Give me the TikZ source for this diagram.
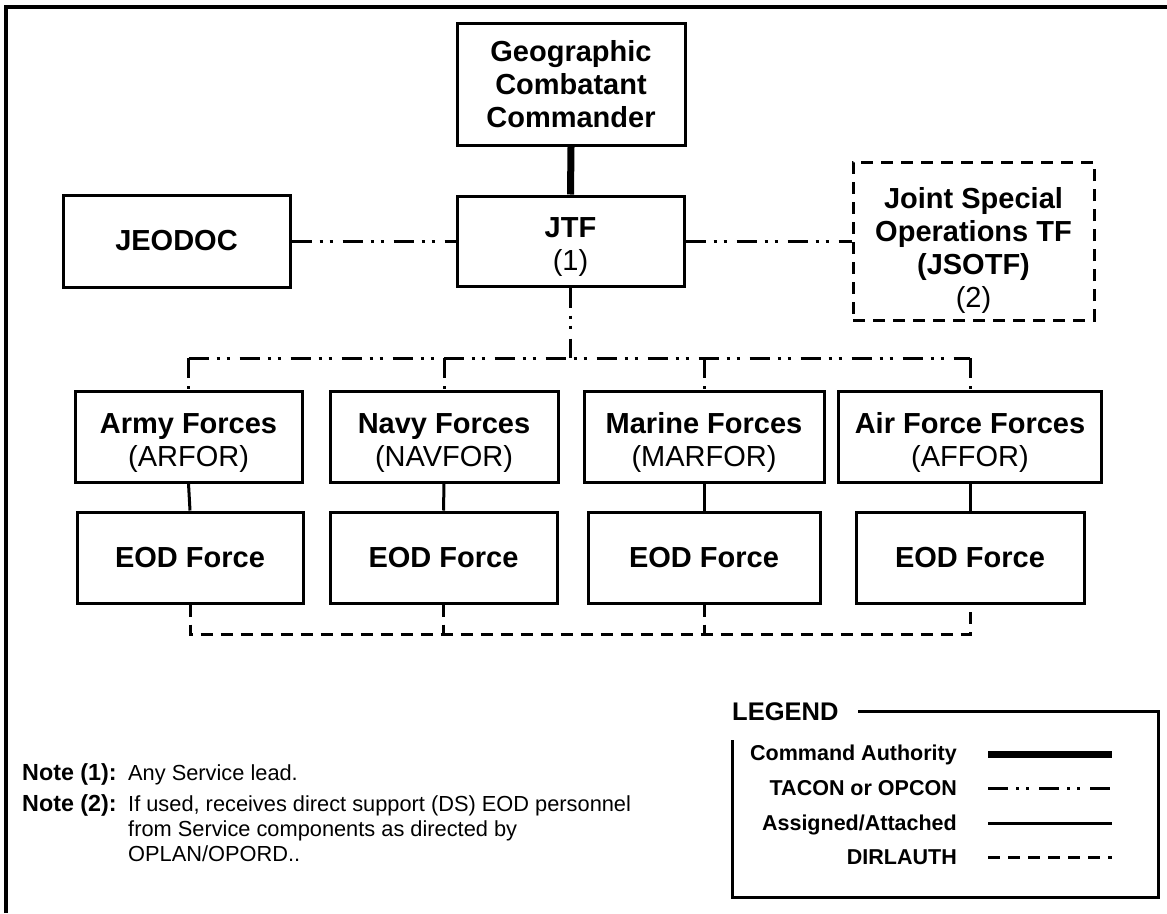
\documentclass[tikz,border=0pt]{standalone}
\usepackage{fontspec}
\setmainfont{Liberation Sans}
\newcommand{\upstrut}[1]{\rule{0pt}{#1}}
\begin{document}
\begin{tikzpicture}[x=1pt,y=-1pt,
  box/.style={draw, line width=3pt, inner sep=0pt, align=center,
    font=\fontsize{29}{33}\selectfont},
  cmd/.style={line width=7pt},
  tacon/.style={line width=3pt, dash pattern=on 20pt off 8pt on 3pt off 7pt on 3pt off 10pt},
  assigned/.style={line width=3pt},
  dirl/.style={line width=3pt, dash pattern=on 12pt off 8pt},
  legtext/.style={anchor=base east, inner sep=0pt, font=\fontsize{21.5}{24}\selectfont\bfseries},
  notehead/.style={anchor=base west, inner sep=0pt, font=\fontsize{23.3}{25}\selectfont\bfseries},
  notebody/.style={anchor=base west, inner sep=0pt, font=\fontsize{21.8}{25}\selectfont}
]
\useasboundingbox (0,0) rectangle (1167,913);
% outer frame
\draw[line width=4pt] (5.5,913) -- (5.5,7) -- (1167,7);

% nodes
\node[box, minimum width=228pt, minimum height=122pt] (gcc) at (571,84.5)
  {\bfseries Geographic\\\bfseries Combatant\\\bfseries Commander};
\node[box, minimum width=227pt, minimum height=90pt] (jtf) at (570.5,241)
  {\upstrut{32pt}\bfseries JTF\\(1)};
\node[box, minimum width=227pt, minimum height=92pt] (jeodoc) at (176.5,241)
  {\bfseries JEODOC};
\node[box, dash pattern=on 12pt off 8pt, minimum width=241pt, minimum height=158pt] (jsotf) at (973.5,241)
  {\upstrut{40pt}\bfseries Joint Special\\\bfseries Operations TF\\\bfseries (JSOTF)\\(2)};

\node[box, minimum width=227pt, minimum height=91pt] (army) at (188.5,436.5)
  {\upstrut{33pt}\bfseries Army Forces\\(ARFOR)};
\node[box, minimum width=228pt, minimum height=91pt] (navy) at (444,436.5)
  {\upstrut{33pt}\bfseries Navy Forces\\(NAVFOR)};
\node[box, minimum width=240pt, minimum height=91pt] (marine) at (704,436.5)
  {\upstrut{33pt}\bfseries Marine Forces\\(MARFOR)};
\node[box, minimum width=263pt, minimum height=91pt] (af) at (970,436.5)
  {\upstrut{33pt}\bfseries Air Force Forces\\(AFFOR)};

\node[box, minimum width=226pt, minimum height=91pt] (eod1) at (190,557.5) {\bfseries EOD Force};
\node[box, minimum width=227pt, minimum height=91pt] (eod2) at (443.5,557.5) {\bfseries EOD Force};
\node[box, minimum width=232pt, minimum height=91pt] (eod3) at (704,557.5) {\bfseries EOD Force};
\node[box, minimum width=228pt, minimum height=91pt] (eod4) at (970,557.5) {\bfseries EOD Force};

% connectors
\draw[cmd] (gcc.south) -- (jtf.north);
\draw[tacon] (jeodoc.east) -- (jtf.west);
\draw[tacon] (jtf.east) -- (jsotf.west);

\coordinate (busL) at (188.5,358);
\coordinate (busR) at (970,358);
\draw[tacon] (jtf.south) -- (jtf.south |- busL);
\draw[tacon] (busL) -- (busR);
\draw[tacon] (busL) -- (army.north);
\draw[tacon] (navy.north |- busL) -- (navy.north);
\draw[tacon] (marine.north |- busL) -- (marine.north);
\draw[tacon] (busR) -- (af.north);

\draw[assigned] (army.south) -- (eod1.north);
\draw[assigned] (navy.south) -- (eod2.north);
\draw[assigned] (marine.south) -- (eod3.north);
\draw[assigned] (af.south) -- (eod4.north);

\coordinate (dbL) at (190,634);
\coordinate (dbR) at (970,634);
\draw[dirl] (eod1.south) -- (dbL) -- (dbR) -- (eod4.south);
\draw[dirl] (eod2.south) -- (eod2.south |- dbL);
\draw[dirl] (eod3.south) -- (eod3.south |- dbL);

% legend
\node[anchor=base west, inner sep=0pt, font=\fontsize{25.5}{28}\selectfont\bfseries] (legend) at (732,720) {LEGEND};
\draw[line width=3pt] (858,711) -- (1158,711) -- (1158,897) -- (732,897) -- (732,740);
\node[legtext] (lcmd) at (957,760) {Command Authority};
\node[legtext] (ltac) at (957,795.5) {TACON or OPCON};
\node[legtext] (lasg) at (957,830) {Assigned/Attached};
\node[legtext] (ldir) at (957,864) {DIRLAUTH};
\draw[cmd] (988,754) -- (1112,754);
\draw[tacon] (988,788) -- (1112,788);
\draw[assigned] (988,823) -- (1112,823);
\draw[dirl] (988,857) -- (1112,857);

% notes
\node[notehead] (n1h) at (22,780) {Note (1):};
\node[notebody] (n1b) at (128,780) {Any Service lead.};
\node[notehead] (n2h) at (22,811) {Note (2):};
\node[notebody] (n2b1) at (128,811) {If used, receives direct support (DS) EOD personnel};
\node[notebody] (n2b2) at (128,836) {from Service components as directed by};
\node[notebody] (n2b3) at (128,861) {OPLAN/OPORD..};
\end{tikzpicture}
\end{document}
